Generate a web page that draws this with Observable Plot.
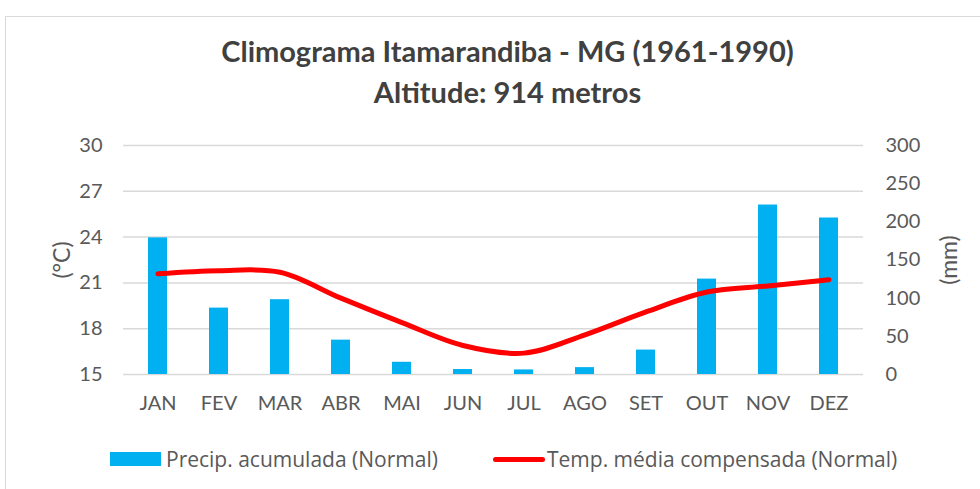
<!DOCTYPE html>
<html><head><meta charset="utf-8">
<script src="https://cdn.jsdelivr.net/npm/d3@7"></script>
<script src="https://cdn.jsdelivr.net/npm/@observablehq/plot@0.6"></script>
<style>
body{margin:0;background:#fff;}
#wrap{position:relative;width:980px;height:489px;overflow:hidden;background:#fff;}
#border{position:absolute;left:5px;top:16px;width:990px;height:500px;border:1.5px solid #d9d9d9;box-sizing:border-box;}
#title{position:absolute;left:0;top:30px;width:1015px;text-align:center;font-family:Lato,sans-serif;font-weight:700;font-size:29px;line-height:41px;color:#404040;}
#plot{position:absolute;left:0;top:120px;}
#legend{position:absolute;top:445px;left:0;width:980px;height:28px;font-family:"Open Sans",sans-serif;font-size:21px;color:#595959;}
.item{position:absolute;top:0;display:flex;align-items:center;height:28px;white-space:nowrap;}
.sw{display:inline-block;}
</style></head>
<body><div id="wrap"><div id="border"></div>
<div id="title">Climograma Itamarandiba - MG (1961-1990)<br>Altitude: 914 metros</div>
<div id="plot"></div>
<div id="legend"></div>
</div>
<script>
const months = ["JAN","FEV","MAR","ABR","MAI","JUN","JUL","AGO","SET","OUT","NOV","DEZ"];
const precip = [179, 87, 98, 45, 16, 6.5, 6, 9, 32, 125, 222, 205];
const temp = [21.6, 21.8, 21.7, 20.0, 18.4, 16.9, 16.4, 17.6, 19.1, 20.4, 20.8, 21.2];
const tempTicks = [15, 18, 21, 24, 27, 30];
const precipTicks = [0, 50, 100, 150, 200, 250, 300];
const seriesNames = ["Precip. acumulada (Normal)", "Temp. média compensada (Normal)"];
const axisTitles = ["(°C)", "(mm)"];

const tMin = 15, tMax = 30, pMax = 300;
const toT = p => tMin + p * (tMax - tMin) / pMax;
const data = months.map((m, i) => ({month: m, precip: precip[i], temp: temp[i]}));

const font = "Lato, sans-serif";
const chart = Plot.plot({
  width: 980, height: 300,
  marginTop: 25, marginBottom: 46, marginLeft: 123, marginRight: 117,
  style: {fontFamily: font, fontSize: "20px", color: "#595959", background: "transparent", overflow: "visible"},
  x: {domain: months, paddingInner: 0.69, paddingOuter: 0.345, label: null},
  y: {domain: [tMin, tMax], label: null},
  marks: [
    Plot.ruleY(tempTicks, {stroke: "#d9d9d9", strokeWidth: 1.5}),
    Plot.barY(data, {x: "month", y1: tMin, y2: d => toT(d.precip), fill: "#00b0f0"}),
    Plot.line(data, {x: "month", y: "temp", stroke: "#ff0000", strokeWidth: 5, curve: "catmull-rom", strokeLinecap: "round", strokeLinejoin: "round"}),
    Plot.axisX({tickSize: 0, tickPadding: 21, label: null, fontSize: 20}),
    Plot.axisY({ticks: tempTicks, tickSize: 0, tickPadding: 21, anchor: "left", label: null, fontSize: 20}),
    Plot.axisY(precipTicks.map(toT), {anchor: "right", tickSize: 0, tickPadding: 22, textAnchor: "start",
      tickFormat: v => String(Math.round((v - tMin) * pMax / (tMax - tMin))), label: null, fontSize: 20}),
    Plot.text([axisTitles[0]], {frameAnchor: "left", dx: -61, rotate: -90, textAnchor: "middle", fontSize: 23, fill: "#595959"}),
    Plot.text([axisTitles[1]], {frameAnchor: "right", dx: 86, rotate: -90, textAnchor: "middle", fontSize: 23, fill: "#595959"})
  ]
});
document.getElementById("plot").appendChild(chart);

const legend = document.getElementById("legend");
legend.innerHTML =
  `<div class="item" style="left:110px"><span class="sw" style="width:51px;height:14px;background:#00b0f0"></span><span style="margin-left:5px">${seriesNames[0]}</span></div>` +
  `<div class="item" style="left:493px"><span class="sw" style="width:52px;height:5px;border-radius:3px;background:#ff0000"></span><span style="margin-left:2px">${seriesNames[1]}</span></div>`;
</script>
</body></html>
